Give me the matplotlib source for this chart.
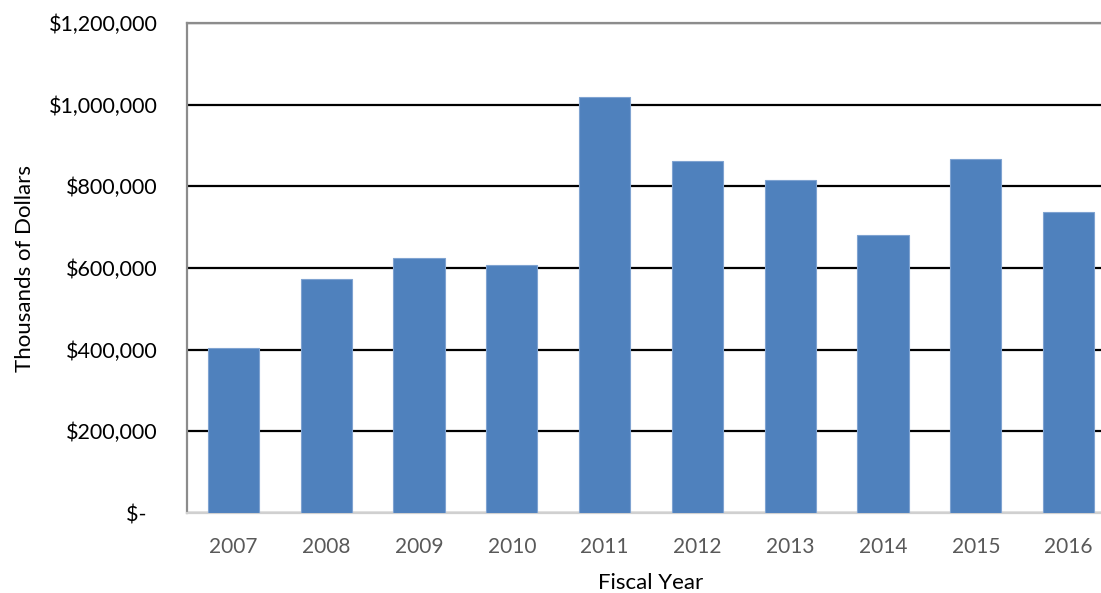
import numpy as np
import matplotlib.pyplot as plt
from matplotlib.ticker import FuncFormatter

# values (thousands of dollars)
years = ['2007', '2008', '2009', '2010', '2011', '2012', '2013', '2014', '2015', '2016']
amounts = [405000, 573000, 625000, 607000, 1018000, 861000, 816000, 680000, 868000, 738000]
y_ticks = [0, 200000, 400000, 600000, 800000, 1000000, 1200000]

plt.rcParams['font.family'] = ['Lato', 'DejaVu Sans']

fig = plt.figure(figsize=(11.01, 5.93), dpi=100)
# the plot area runs past the right edge of the picture, as in the reference
ax = fig.add_axes([187 / 1101, 80 / 593, 928 / 1101, 490 / 593])

x = np.arange(len(years))
ax.bar(x, amounts, width=0.55, color='#4F81BD', edgecolor='#7FA3D1', linewidth=0.8, zorder=3)

ax.set_xlim(-0.5, len(years) - 0.5)
ax.set_ylim(0, 1200000)
ax.set_yticks(y_ticks)


def money(v, pos):
    if v == 0:
        return '$-  '
    return f'${v:,.0f}'


ax.yaxis.set_major_formatter(FuncFormatter(money))
ax.set_xticks(x)
ax.set_xticklabels(years)

ax.grid(axis='y', color='black', linewidth=1.6, zorder=1)
ax.set_axisbelow(True)

for side in ['left', 'top']:
    ax.spines[side].set_color('#8C8C8C')
    ax.spines[side].set_linewidth(1.6)
ax.spines['bottom'].set_color('#D0D0D0')
ax.spines['bottom'].set_linewidth(1.6)
ax.spines['right'].set_visible(False)

ax.tick_params(axis='y', length=0, pad=21, labelsize=15.5, labelcolor='black')
ax.tick_params(axis='x', length=0, pad=17, labelsize=15, labelcolor='#595959')

ax.set_ylabel('Thousands of Dollars', fontsize=16, labelpad=10)
ax.set_xlabel('Fiscal Year', fontsize=16, labelpad=12)

fig.savefig('out.png', dpi=100)
